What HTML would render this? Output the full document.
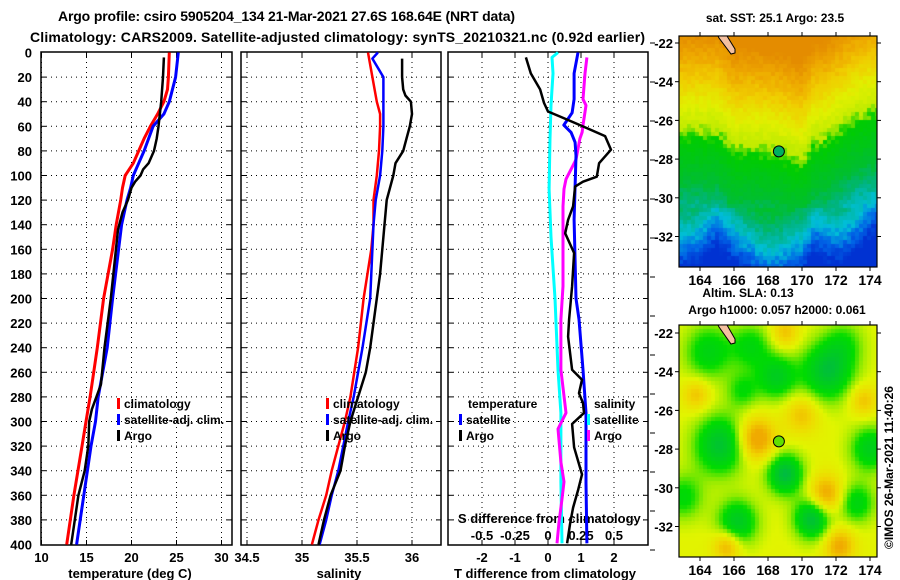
<!DOCTYPE html>
<html><head><meta charset="utf-8">
<style>
html,body{margin:0;padding:0;background:#fff;}
#wrap{position:relative;width:900px;height:580px;overflow:hidden;}
svg text{font-family:"Liberation Sans",sans-serif;font-weight:bold;fill:#000;}
canvas{position:absolute;}
</style></head>
<body>
<div id="wrap">
<canvas id="sst" style="left:679px;top:36px" width="198" height="231"></canvas>
<canvas id="sla" style="left:679px;top:325px" width="198" height="232"></canvas>
<svg id="svg" width="900" height="580" style="position:absolute;left:0;top:0" xmlns="http://www.w3.org/2000/svg">
<text x="58" y="21" font-size="14" textLength="457">Argo profile: csiro 5905204_134 21-Mar-2021 27.6S 168.64E (NRT data)</text>
<text x="30" y="42" font-size="14" textLength="615">Climatology: CARS2009. Satellite-adjusted climatology: synTS_20210321.nc (0.92d earlier)</text>
<text x="775" y="22" font-size="12" text-anchor="middle">sat. SST: 25.1 Argo: 23.5</text>
<text x="748" y="297" font-size="12" text-anchor="middle">Altim. SLA: 0.13</text>
<text x="777" y="314" font-size="12" text-anchor="middle">Argo h1000: 0.057 h2000: 0.061</text>
<text x="0" y="0" font-size="12" font-weight="normal" transform="translate(893,549) rotate(-90)">©IMOS 26-Mar-2021 11:40:26</text>
<g id="g"></g>
</svg>
</div>
<script>
// ---------- data ----------
const depthTicks=[0,20,40,60,80,100,120,140,160,180,200,220,240,260,280,300,320,340,360,380,400];
const tTicks=[10,15,20,25,30];
const sTicks=[34.5,35,35.5,36];
const sTickLabels=["34.5","35","35.5","36"];
const dtTicks=[-2,-1,0,1,2];
const dsTicks=[-0.5,-0.25,0,0.25,0.5];
const dsTickLabels=["-0.5","-0.25","0","0.25","0.5"];

const tClimDepth=[0,20,30,40,50,60,70,80,90,100,110,120,140,160,200,240,280,300,320,360,400];
const tClim=[24.2,24.1,24.0,23.6,22.9,22.1,21.4,20.8,20.2,19.3,19.0,18.8,18.3,17.9,16.9,16.2,15.4,14.95,14.5,13.6,12.8];
const tSatDepth=[0,20,40,50,60,70,80,90,100,110,120,140,200,240,280,300,320,360,380,400];
const tSat=[25.2,24.9,24.2,23.6,22.4,21.9,21.4,20.8,20.2,19.9,19.5,18.9,17.9,17.3,16.3,16.0,15.5,14.7,14.3,13.9];
const tArgoDepth=[4,20,40,60,70,80,90,95,100,105,110,120,130,144,200,240,270,280,290,300,320,340,360,380,400];
const tArgo=[23.6,23.5,23.3,23.0,22.8,22.5,21.9,21.3,21.0,20.4,20.0,19.6,19.0,18.5,17.7,17.0,16.6,16.1,15.6,15.3,15.2,14.8,14.1,13.7,13.3];

const sClimDepth=[0,20,40,50,60,80,100,120,140,160,200,240,280,300,340,360,380,400];
const sClim=[35.60,35.64,35.68,35.71,35.71,35.70,35.68,35.65,35.65,35.63,35.56,35.51,35.44,35.39,35.27,35.22,35.15,35.09];
const sSatDepth=[0,5,20,40,60,80,100,120,140,160,200,240,280,300,340,360,380,400];
const sSat=[35.69,35.64,35.74,35.74,35.74,35.73,35.71,35.67,35.65,35.64,35.62,35.55,35.47,35.42,35.33,35.27,35.22,35.16];
const sArgoDepth=[5,20,30,35,40,50,60,70,80,90,100,110,120,140,160,180,200,220,240,260,280,300,320,340,360,380,400];
const sArgo=[35.91,35.91,35.92,35.94,35.99,36.00,35.98,35.95,35.92,35.85,35.83,35.80,35.77,35.75,35.73,35.71,35.68,35.65,35.62,35.58,35.51,35.44,35.39,35.35,35.26,35.20,35.15];

const dtArgoDepth=[4,17,30,41,48,52,59,68,79,90,101,105,109,125,136,147,163,190,217,231,258,266,277,285,293,302,321,343,356,370,383,399];
const dtArgo=[-0.67,-0.52,-0.24,-0.12,0,0.36,0.97,1.73,1.91,1.55,1.48,1.06,0.82,0.76,0.61,0.52,0.79,0.73,0.64,0.61,0.73,1.03,0.94,1.06,1.09,0.73,0.79,1.03,0.91,0.76,0.67,0.58];
const dtSatDepth=[0,17,38,49,59,65,73,84,136,200,217,258,293,350,399];
const dtSat=[0.91,0.79,0.79,0.73,0.48,0.70,0.82,0.85,0.79,0.85,0.94,1.06,1.15,1.15,1.18];
const dsSatDepth=[0,4,17,43,70,111,150,200,258,293,349,399];
const dsSat=[0.076,0.03,0.038,0.023,0.015,0.008,0.023,0.053,0.076,0.098,0.098,0.106];
const dsArgoDepth=[4,17,38,43,59,65,70,87,92,103,111,125,147,190,217,258,293,306,333,349,363,382,399];
const dsArgo=[0.295,0.28,0.265,0.288,0.265,0.258,0.242,0.212,0.189,0.136,0.121,0.114,0.114,0.114,0.098,0.098,0.136,0.076,0.098,0.121,0.106,0.083,0.068];

// ---------- helpers ----------
const NS="http://www.w3.org/2000/svg";
const G=document.getElementById('g');
function el(tag,attrs,parent){const e=document.createElementNS(NS,tag);for(const k in attrs)e.setAttribute(k,attrs[k]);(parent||G).appendChild(e);return e;}
const Y=d=>52.5+d*1.23;
const xT=t=>41.5+(t-10)*9;
const xS=s=>302+(s-35)*110;
const xDT=v=>548+v*33;
const xDS=v=>548+v*132;
const panels=[{x0:41,x1:232,name:'temperature'},{x0:241,x1:441,name:'salinity'},{x0:448,x1:648,name:'difference'}];
const TOP=52,BOT=545;

panels.forEach((p,i)=>{
  const fr=el('rect',{x:p.x0,y:TOP,width:p.x1-p.x0,height:BOT-TOP,fill:'none',stroke:'#000','stroke-width':1.5});
  
  
  depthTicks.forEach(d=>{
    if(d===0||d===400)return;
    const l=el('line',{x1:p.x0,x2:p.x1,y1:Y(d),y2:Y(d),stroke:'#000','stroke-width':1,'stroke-dasharray':'1,4'});
    
    
    el('line',{x1:p.x0,x2:p.x0+5,y1:Y(d),y2:Y(d),stroke:'#000'});
    el('line',{x1:p.x1-5,x2:p.x1,y1:Y(d),y2:Y(d),stroke:'#000'});
  });
});
depthTicks.forEach(d=>{
  const t=el('text',{x:32,y:Y(d)+5,'font-size':13,'text-anchor':'end'});t.textContent=d;
  
  
});
function vgrid(xs,fx){xs.forEach(v=>{const x=fx(v);
  const l=el('line',{x1:x,x2:x,y1:TOP,y2:BOT,stroke:'#000','stroke-width':1,'stroke-dasharray':'1,4'});
  
  
  el('line',{x1:x,x2:x,y1:TOP,y2:TOP+5,stroke:'#000'});el('line',{x1:x,x2:x,y1:BOT-5,y2:BOT,stroke:'#000'});});}
vgrid(tTicks,xT);vgrid(sTicks,xS);vgrid(dtTicks,xDT);
tTicks.forEach(v=>{const t=el('text',{x:xT(v),y:562,'font-size':13,'text-anchor':'middle'});t.textContent=v;
  });
sTicks.forEach((v,i)=>{const t=el('text',{x:xS(v),y:562,'font-size':13,'text-anchor':'middle'});t.textContent=sTickLabels[i];
  });
dtTicks.forEach(v=>{const t=el('text',{x:xDT(v),y:562,'font-size':13,'text-anchor':'middle'});t.textContent=v;
  });
dsTicks.forEach((v,i)=>{const t=el('text',{x:xDS(v),y:540,'font-size':13,'text-anchor':'middle'});t.textContent=dsTickLabels[i];
  });
for(let y=43;y<560;y+=39){el('line',{x1:650,x2:655,y1:y,y2:y,stroke:'#000'});}

function lab(x,y,s,name,anchor,size){const t=el('text',{x:x,y:y,'font-size':size||13,'text-anchor':anchor||'start'});t.textContent=s;
  return t;}
lab(130,578,'temperature (deg C)','temperature-axis-title','middle');
lab(339,578,'salinity','salinity-axis-title','middle');
lab(545,578,'T difference from climatology','t-difference-axis-title','middle');
lab(458,523,'S difference from climatology','s-difference-axis-title','start');

function series(depths,vals,fx,color,name,w){
  const pts=depths.map((d,i)=>fx(vals[i]).toFixed(1)+','+Y(d).toFixed(1)).join(' ');
  const pl=el('polyline',{points:pts,fill:'none',stroke:color,'stroke-width':w||2.5,'stroke-linejoin':'round'});
  
  
}
series(tClimDepth,tClim,xT,'#ff0000','temperature-climatology-line',3);
series(tSatDepth,tSat,xT,'#0000ff','temperature-satellite-line',3);
series(tArgoDepth,tArgo,xT,'#000000','temperature-argo-line',2.5);
series(sClimDepth,sClim,xS,'#ff0000','salinity-climatology-line',2.5);
series(sSatDepth,sSat,xS,'#0000ff','salinity-satellite-line',2.5);
series(sArgoDepth,sArgo,xS,'#000000','salinity-argo-line',2.5);
series(dsSatDepth,dsSat,xDS,'#00ffff','s-diff-satellite-line',3);
series(dsArgoDepth,dsArgo,xDS,'#ff00ff','s-diff-argo-line',3);
series(dtSatDepth,dtSat,xDT,'#0000ff','t-diff-satellite-line',3);
series(dtArgoDepth,dtArgo,xDT,'#000000','t-diff-argo-line',2.5);

function legend(x,y,color,text,name){
  const m=el('rect',{x:x,y:y-10,width:3,height:11,fill:color});
  
  lab(x+7,y,text,name,'start',12);
}
legend(117,408,'#ff0000','climatology','legend-climatology');
legend(117,424,'#0000ff','satellite-adj. clim.','legend-satellite-adj');
legend(117,440,'#000000','Argo','legend-argo');
legend(326,408,'#ff0000','climatology','legend2-climatology');
legend(326,424,'#0000ff','satellite-adj. clim.','legend2-satellite-adj');
legend(326,440,'#000000','Argo','legend2-argo');
lab(468,408,'temperature','legend-temperature-heading','start',12);
legend(459,424,'#0000ff','satellite','legend-t-satellite');
legend(459,440,'#000000','Argo','legend-t-argo');
lab(594,408,'salinity','legend-salinity-heading','start',12);
legend(587,424,'#00ffff','satellite','legend-s-satellite');
legend(587,440,'#ff00ff','Argo','legend-s-argo');

// ---------- maps ----------
const mapLonTicks=[164,166,168,170,172,174];
const mapLatTicks=[-22,-24,-26,-28,-30,-32];
function mapAxes(top,h,lat0y,name,fill){
  const r=el('rect',{x:679,y:top,width:198,height:h,fill:'none',stroke:'#000','stroke-width':1.2});
  
  mapLonTicks.forEach(lo=>{const x=700+(lo-164)*17;
    el('line',{x1:x,x2:x,y1:top-4,y2:top,stroke:'#000'});el('line',{x1:x,x2:x,y1:top+h,y2:top+h+4,stroke:'#000'});
    lab(x,top+h+18,String(lo),name+'-lon-label','middle',14);});
  mapLatTicks.forEach(la=>{const y=lat0y+(-22-la)*19.35;
    el('line',{x1:675,x2:679,y1:y,y2:y,stroke:'#000'});el('line',{x1:877,x2:881,y1:y,y2:y,stroke:'#000'});
    lab(673,y+5,String(la),name+'-lat-label','end',13);});
  const c=el('circle',{cx:700+(168.64-164)*17,cy:lat0y+(27.6-22)*19.35,r:5.5,fill:fill,stroke:'#000','stroke-width':1});
  
  const land=el('path',{d:`M${718},${top} L${727},${top} L${735},${lat0y+6} L${735},${lat0y+10} L${731},${lat0y+11} L${719},${top+2} Z`,fill:'#f4c0a0',stroke:'#000','stroke-width':1});
  
}
mapAxes(36,231,43,'sst-map','#00b060');
mapAxes(325,232,333,'sla-map','#60e000');

function hash(i,j){let h=(i*374761393+j*668265263)^0x5bd1e995;h=(h^(h>>>13))*1274126177;return((h^(h>>>16))>>>0)/4294967295;}
function lerpC(stops,v){
  if(v<=stops[0][0])return stops[0][1];
  for(let k=1;k<stops.length;k++){if(v<=stops[k][0]){const a=stops[k-1],b=stops[k],f=(v-a[0])/(b[0]-a[0]);
    return a[1].map((c,i)=>Math.round(c+(b[1][i]-c)*f));}}
  return stops[stops.length-1][1];
}
(function(){
  const cv=document.getElementById('sst'),cx=cv.getContext('2d');
  const bl=[[162.7,-26.7],[165,-26.7],[166,-27.6],[167,-27.5],[168.5,-27.7],[170,-28.2],[170.7,-27.2],[171.5,-27],[173,-26],[174.5,-25.5]];
  function b(lon){for(let k=1;k<bl.length;k++)if(lon<=bl[k][0]){const f=(lon-bl[k-1][0])/(bl[k][0]-bl[k-1][0]);return bl[k-1][1]+f*(bl[k][1]-bl[k-1][1]);}return bl[bl.length-1][1];}
  const stops=[[-6.3,[0,50,210]],[-5.5,[0,100,230]],[-4.6,[0,190,215]],[-3.6,[0,180,130]],[-2.6,[0,190,50]],[-0.3,[0,205,0]],[0.3,[190,235,0]],[1.5,[225,240,0]],[2.8,[240,205,0]],[4,[238,168,0]],[5.2,[228,140,0]]];
  for(let py=0;py<231;py+=4)for(let px=0;px<198;px+=4){
    const lon=162.76+(px+2)/17,lat=-21.64-(py+2)/19.35;
    let d=lat-b(lon)+(hash(px,py)-0.5)*0.6;
    if(lat<-30.5)d-=0.6*Math.sin(lon*1.3);
    const c=lerpC(stops,d);cx.fillStyle=`rgb(${c[0]},${c[1]},${c[2]})`;cx.fillRect(px,py,4,4);}
})();
(function(){
  const cv=document.getElementById('sla'),cx=cv.getContext('2d');
  const blobs=[[165.2,-27.8,-1,1.3],[169,-29.3,-1.1,0.9],[170.6,-31.6,-1.1,0.9],[166.2,-31.8,-0.9,1.0],[171.5,-24,-1,1.3],[168.5,-24.3,-0.8,1.0],[164.5,-23,-0.7,1.2],[167,-22.7,-0.6,1],[174,-28,-0.8,1],[173.2,-30.8,-0.7,0.9],[163,-30.5,-0.6,1],[172.5,-22.5,-0.4,1],[166.5,-25,-0.5,0.8],
    [167.3,-27.5,0.9,1.1],[171.4,-30.4,0.8,1],[165.6,-33,0.7,0.8],[172.2,-33,0.7,0.9],[163.8,-25.2,0.5,0.8],[170,-26.2,0.5,1],[173.6,-25.5,0.5,0.8],[169,-22,0.5,0.8]];
  const stops=[[-1.0,[0,170,100]],[-0.6,[0,200,40]],[-0.2,[0,220,0]],[0.08,[150,235,0]],[0.3,[225,245,0]],[0.65,[240,215,0]],[1.0,[240,170,0]]];
  for(let py=0;py<232;py+=4)for(let px=0;px<198;px+=4){
    const lon=162.76+(px+2)/17,lat=-21.6-(py+2)/19.35;let s=0.33;
    blobs.forEach(bb=>{const r=bb[2]<0?bb[3]*1.18:bb[3];const dx=(lon-bb[0])/r,dy=(lat-bb[1])/r;s+=bb[2]*Math.exp(-(dx*dx+dy*dy));});
    const c=lerpC(stops,s);cx.fillStyle=`rgb(${c[0]},${c[1]},${c[2]})`;cx.fillRect(px,py,4,4);}
})();
</script>
</body></html>
